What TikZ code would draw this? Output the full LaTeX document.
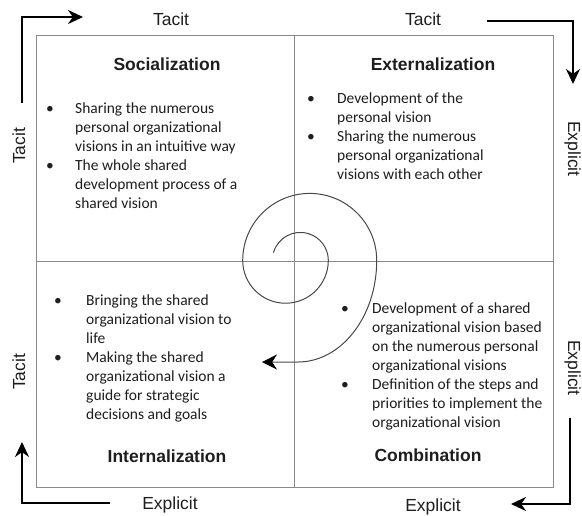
\documentclass[tikz,border=0pt]{standalone}
\usepackage{fontspec}
\setmainfont{Carlito}
\newfontfamily\labelfont{Liberation Sans}
\usetikzlibrary{arrows.meta}
\definecolor{gridgray}{HTML}{8A8A8A}
\definecolor{spiralgray}{HTML}{484848}
\definecolor{txt}{HTML}{1E1E1E}
\begin{document}
\begin{tikzpicture}[x=1pt,y=-1pt,
  body/.style={font={\fontsize{15.5}{19}\selectfont}, text=txt, inner sep=0pt, align=left, anchor=north west, yshift=13.3pt},
  bul/.style={font={\fontsize{15.5}{19}\selectfont}, text=txt, inner sep=0pt, anchor=base},
  title/.style={font={\labelfont\bfseries\fontsize{17.5}{20}\selectfont}, text=txt, inner sep=0pt, anchor=base},
  axislabel/.style={font={\labelfont\fontsize{17.5}{20}\selectfont}, text=txt, inner sep=0pt, anchor=base},
  bigarrow/.style={line width=2.2pt, -{Stealth[length=15pt,width=14pt]}},
  grid line/.style={draw=gridgray, line width=0.8pt}]
\useasboundingbox (0,0) rectangle (582,515);
\fill[white] (0,0) rectangle (582,515);
% frame and quadrants
\draw[grid line] (36,35) rectangle (553,487);
\coordinate (vt) at (294.5,35);
\coordinate (vb) at (294.5,487);
\coordinate (hl) at (36,261);
\coordinate (hr) at (553,261);
\draw[grid line] (vt) -- (vb);
\draw[grid line] (hl) -- (hr);
% spiral
\coordinate (sp0) at (273.4,252.7);
\coordinate (sp1) at (262,362);
\draw[spiralgray, line width=1pt, -{Stealth[length=15pt,width=15pt,black]}]
  (sp0) arc[start angle=164, end angle=0, radius=28pt]
        arc[start angle=0, end angle=-180, radius=42.8pt]
        arc[start angle=180, end angle=0, radius=67pt]
        arc[start angle=0, end angle=-90, x radius=79pt, y radius=101.6pt]
        -- (sp1);
% quadrant titles
\node[title] (soc) at (167,70) {Socialization};
\node[title] (ext) at (433,70) {Externalization};
\node[title] (int) at (167,462) {Internalization};
\node[title] (com) at (428,461) {Combination};
% Q1
\node[bul] (b11) at (50,113) {•};
\node[body] (t11) at (75,113) {\strut Sharing the numerous\\personal organizational\\visions in an intuitive way};
\node[bul] (b12) at (50,170) {•};
\node[body] (t12) at (75,170) {\strut The whole shared\\development process of a\\shared vision};
% Q2
\node[bul] (b21) at (311,103) {•};
\node[body] (t21) at (337,103) {\strut Development of the\\personal vision};
\node[bul] (b22) at (311,141) {•};
\node[body] (t22) at (337,141) {\strut Sharing the numerous\\personal organizational\\visions with each other};
% Q3
\node[bul] (b31) at (58,305) {•};
\node[body] (t31) at (86,305) {\strut Bringing the shared\\organizational vision to\\life};
\node[bul] (b32) at (58,362) {•};
\node[body] (t32) at (86,362) {\strut Making the shared\\organizational vision a\\guide for strategic\\decisions and goals};
% Q4
\node[bul] (b41) at (345,313) {•};
\node[body] (t41) at (372,313) {\strut Development of a shared\\organizational vision based\\on the numerous personal\\organizational visions};
\node[bul] (b42) at (345,389) {•};
\node[body] (t42) at (372,389) {\strut Definition of the steps and\\priorities to implement the\\organizational vision};
% axis labels
\node[axislabel] (ltop) at (171,25) {Tacit};
\node[axislabel] (rtop) at (423,25) {Tacit};
\node[axislabel] (lbot) at (170,509) {Explicit};
\node[axislabel] (rbot) at (433,511) {Explicit};
\node[axislabel, rotate=90] (lup) at (25,146) {Tacit};
\node[axislabel, rotate=90] (llow) at (25,372) {Tacit};
\node[axislabel, rotate=-90] (rup) at (568,149) {Explicit};
\node[axislabel, rotate=-90] (rlow) at (568,368) {Explicit};
% corner arrows
\coordinate (a1s) at (22,103); \coordinate (a1c) at (22,17); \coordinate (a1e) at (83,17);
\draw[bigarrow] (a1s) -- (a1c) -- (a1e);
\coordinate (a2s) at (487,21); \coordinate (a2c) at (573,21); \coordinate (a2e) at (573,84);
\draw[bigarrow] (a2s) -- (a2c) -- (a2e);
\coordinate (a3s) at (570,418); \coordinate (a3c) at (570,504); \coordinate (a3e) at (511,504);
\draw[bigarrow] (a3s) -- (a3c) -- (a3e);
\coordinate (a4s) at (110,503); \coordinate (a4c) at (22,503); \coordinate (a4e) at (22,442);
\draw[bigarrow] (a4s) -- (a4c) -- (a4e);
\end{tikzpicture}
\end{document}
